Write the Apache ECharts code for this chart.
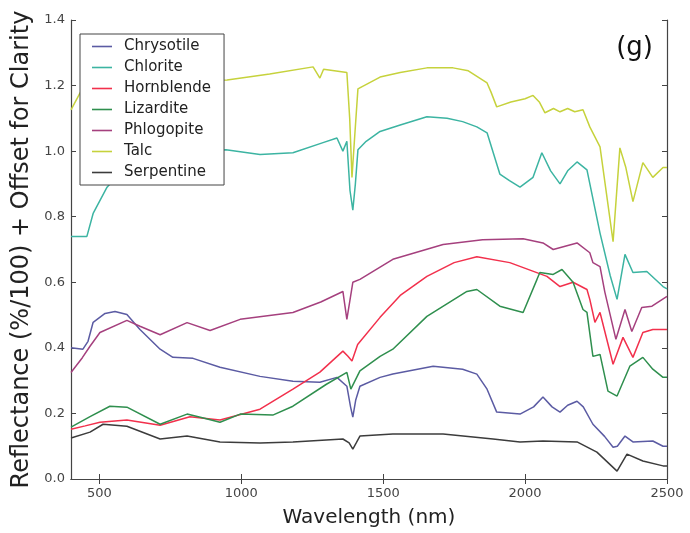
<!DOCTYPE html>
<html>
<head>
<meta charset="utf-8">
<script src="https://cdn.jsdelivr.net/npm/echarts@6/dist/echarts.min.js"></script>
<style>
  html, body { margin: 0; padding: 0; background: #fff; }
  #chart { width: 690px; height: 533px; }
</style>
</head>
<body>
<div id="chart"></div>
<script>
// tick labels
const xTicks = [500, 1000, 1500, 2000, 2500];

// [wavelength nm, reflectance + offset]
const chrysotile = [[400,0.40],[442,0.396],[460,0.42],[478,0.478],[520,0.505],[555,0.511],[597,0.502],[643,0.456],[714,0.396],[759,0.371],[830,0.368],[925,0.341],[1066,0.313],[1182,0.298],[1277,0.295],[1337,0.31],[1372,0.283],[1385,0.22],[1393,0.189],[1403,0.24],[1418,0.283],[1489,0.31],[1534,0.32],[1676,0.344],[1780,0.335],[1830,0.32],[1866,0.274],[1900,0.204],[1982,0.198],[2030,0.22],[2063,0.25],[2095,0.22],[2123,0.204],[2150,0.225],[2183,0.237],[2205,0.22],[2239,0.167],[2280,0.13],[2310,0.097],[2325,0.1],[2352,0.131],[2380,0.113],[2450,0.116],[2486,0.10],[2500,0.10]];

const chlorite = [[400,0.74],[456,0.74],[478,0.81],[527,0.89],[600,0.96],[700,0.99],[800,1.0],[946,1.004],[1066,0.99],[1182,0.995],[1288,1.026],[1337,1.04],[1358,1.0],[1372,1.03],[1383,0.88],[1393,0.82],[1402,0.9],[1411,1.004],[1440,1.03],[1489,1.06],[1560,1.08],[1654,1.105],[1725,1.10],[1780,1.09],[1830,1.074],[1866,1.056],[1911,0.93],[1945,0.91],[1982,0.89],[2028,0.92],[2059,0.995],[2090,0.94],[2123,0.90],[2150,0.94],[2183,0.967],[2218,0.943],[2264,0.75],[2300,0.62],[2324,0.548],[2352,0.685],[2380,0.63],[2429,0.633],[2486,0.587],[2500,0.58]];

const hornblende = [[400,0.152],[450,0.162],[502,0.173],[597,0.18],[714,0.164],[819,0.19],[925,0.18],[1066,0.213],[1182,0.274],[1277,0.326],[1358,0.39],[1375,0.375],[1390,0.36],[1410,0.41],[1489,0.493],[1560,0.56],[1654,0.618],[1750,0.66],[1830,0.678],[1946,0.66],[2077,0.618],[2123,0.587],[2169,0.60],[2218,0.578],[2228,0.548],[2246,0.478],[2264,0.508],[2310,0.35],[2345,0.432],[2380,0.371],[2415,0.447],[2450,0.456],[2500,0.456]];

const lizardite = [[400,0.158],[467,0.19],[537,0.222],[597,0.219],[714,0.167],[809,0.198],[870,0.185],[925,0.173],[996,0.198],[1111,0.195],[1182,0.222],[1300,0.289],[1372,0.325],[1386,0.274],[1418,0.33],[1489,0.374],[1534,0.396],[1654,0.496],[1795,0.572],[1830,0.578],[1911,0.527],[1993,0.508],[2042,0.609],[2052,0.63],[2099,0.624],[2130,0.639],[2169,0.60],[2204,0.517],[2218,0.508],[2239,0.374],[2264,0.38],[2292,0.268],[2324,0.253],[2369,0.344],[2415,0.371],[2450,0.335],[2486,0.31],[2500,0.31]];

const phlogopite = [[400,0.325],[440,0.37],[467,0.405],[502,0.447],[597,0.484],[643,0.466],[714,0.44],[809,0.477],[890,0.453],[996,0.487],[1182,0.508],[1280,0.54],[1358,0.572],[1372,0.487],[1393,0.60],[1418,0.609],[1534,0.67],[1711,0.715],[1850,0.73],[1993,0.733],[2063,0.72],[2099,0.70],[2183,0.72],[2228,0.69],[2239,0.66],[2264,0.648],[2281,0.57],[2320,0.426],[2352,0.517],[2376,0.45],[2411,0.523],[2447,0.527],[2500,0.557]];

const talc = [[400,1.126],[432,1.178],[470,1.20],[550,1.21],[700,1.21],[850,1.215],[950,1.217],[1100,1.235],[1253,1.257],[1277,1.223],[1290,1.25],[1372,1.24],[1382,1.1],[1390,0.92],[1400,1.05],[1411,1.19],[1489,1.226],[1560,1.24],[1654,1.254],[1746,1.254],[1800,1.245],[1866,1.208],[1880,1.18],[1900,1.135],[1950,1.15],[2000,1.16],[2028,1.17],[2050,1.15],[2070,1.117],[2100,1.13],[2123,1.12],[2150,1.13],[2175,1.12],[2204,1.126],[2228,1.074],[2264,1.013],[2290,0.85],[2310,0.724],[2334,1.01],[2355,0.95],[2380,0.846],[2415,0.965],[2450,0.92],[2486,0.95],[2500,0.95]];

const serpentine = [[400,0.125],[467,0.143],[513,0.167],[597,0.161],[714,0.122],[809,0.131],[925,0.113],[1066,0.11],[1182,0.113],[1358,0.122],[1380,0.11],[1393,0.091],[1405,0.11],[1418,0.131],[1534,0.137],[1711,0.137],[1887,0.122],[1982,0.113],[2063,0.116],[2183,0.113],[2253,0.082],[2324,0.024],[2359,0.076],[2415,0.055],[2486,0.04],[2500,0.04]];

const names = ['Chrysotile', 'Chlorite', 'Hornblende', 'Lizardite', 'Phlogopite', 'Talc', 'Serpentine'];
const colors = ['#5b5ba3', '#3cb4a2', '#f2304c', '#2f8f4e', '#a5407e', '#c6d23c', '#3c3c3c'];
const allData = [chrysotile, chlorite, hornblende, lizardite, phlogopite, talc, serpentine];

const chart = echarts.init(document.getElementById('chart'));

const font = 'DejaVu Sans';

const option = {
  animation: false,
  textStyle: { fontFamily: font },
  title: {
    text: '(g)',
    right: 32,
    top: 30,
    textStyle: { fontSize: 26, fontWeight: 'normal', color: '#111', fontFamily: font }
  },
  legend: {
    orient: 'vertical',
    left: 80,
    top: 34,
    data: names,
    icon: 'path://M0,0H20V1.6H0Z',
    itemWidth: 20,
    itemHeight: 14,
    itemGap: 6,
    padding: [5, 13, 5, 12],
    borderColor: '#444',
    borderWidth: 1,
    backgroundColor: '#fff',
    textStyle: { fontSize: 15, color: '#222', fontFamily: font, padding: [0, 0, 0, 7] }
  },
  grid: { left: 71, right: 23, top: 20, bottom: 53 },
  xAxis: [{
    type: 'value',
    min: 400,
    max: 2500,
    name: 'Wavelength (nm)',
    nameLocation: 'middle',
    nameGap: 29,
    nameTextStyle: { fontSize: 20, color: '#222', fontFamily: font },
    axisLine: { lineStyle: { color: '#444', width: 1.2 } },
    axisTick: { inside: true, length: 5, customValues: xTicks, lineStyle: { color: '#444' } },
    axisLabel: { customValues: xTicks, fontSize: 13, color: '#444', margin: 8, formatter: v => String(v) },
    splitLine: { show: false }
  }, {
    type: 'value',
    position: 'top',
    min: 400,
    max: 2500,
    axisLine: { lineStyle: { color: '#444', width: 1.2 } },
    axisTick: { inside: true, length: 5, customValues: xTicks, lineStyle: { color: '#444' } },
    axisLabel: { show: false },
    splitLine: { show: false }
  }],
  yAxis: [{
    type: 'value',
    min: 0,
    max: 1.4,
    interval: 0.2,
    name: 'Reflectance (%/100) + Offset for Clarity',
    nameLocation: 'middle',
    nameGap: 37,
    nameTextStyle: { fontSize: 24, color: '#222', fontFamily: font },
    axisLine: { show: true, lineStyle: { color: '#444', width: 1.2 } },
    axisTick: { show: true, inside: true, length: 5, lineStyle: { color: '#444' } },
    axisLabel: { fontSize: 13, color: '#444', margin: 6, formatter: v => v.toFixed(1) },
    splitLine: { show: false }
  }, {
    type: 'value',
    position: 'right',
    min: 0,
    max: 1.4,
    interval: 0.2,
    axisLine: { show: true, lineStyle: { color: '#444', width: 1.2 } },
    axisTick: { show: true, inside: true, length: 5, lineStyle: { color: '#444' } },
    axisLabel: { show: false },
    splitLine: { show: false }
  }],
  series: names.map((n, i) => ({
    name: n,
    type: 'line',
    data: allData[i],
    xAxisIndex: 0,
    yAxisIndex: 0,
    showSymbol: false,
    symbol: 'none',
    color: colors[i],
    lineStyle: { width: 1.5, color: colors[i] }
  }))
};

chart.setOption(option);
</script>
</body>
</html>
